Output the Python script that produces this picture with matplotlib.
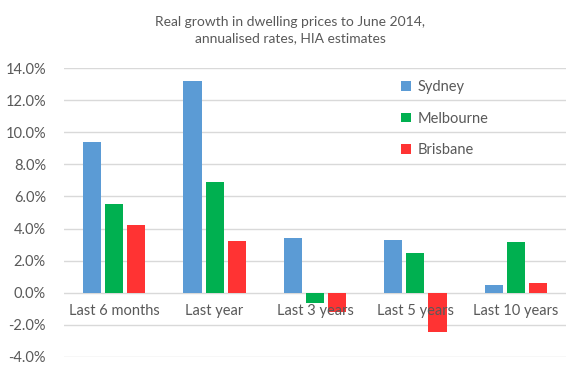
import numpy as np
import matplotlib
matplotlib.use("Agg")
import matplotlib.pyplot as plt
from matplotlib.ticker import FuncFormatter

plt.rcParams['font.family'] = ['Lato', 'DejaVu Sans']

# ── Data ──────────────────────────────────────────────────────
categories = ["Last 6 months", "Last year", "Last 3 years", "Last 5 years", "Last 10 years"]
sydney = [9.4, 13.2, 3.4, 3.3, 0.5]
melbourne = [5.5, 6.9, -0.65, 2.5, 3.15]
brisbane = [4.2, 3.2, -1.2, -2.45, 0.6]
series = [("Sydney", sydney, "#5b9bd5"),
          ("Melbourne", melbourne, "#00b050"),
          ("Brisbane", brisbane, "#ff3333")]

TEXT = "#595959"
GRID = "#d9d9d9"

fig = plt.figure(figsize=(5.8, 3.8), dpi=100)
ax = fig.add_axes([64 / 580, 1 - 357 / 380, 502 / 580, (357 - 68) / 380])

x = np.arange(len(categories))
width = 0.18
step = 0.22
for i, (name, vals, col) in enumerate(series):
    ax.bar(x + (i - 1) * step, vals, width, color=col, label=name, zorder=2)

ax.set_ylim(-4, 14)
ax.set_xlim(-0.5, len(categories) - 0.5)
ax.set_yticks(np.arange(-4, 15, 2))
ax.yaxis.set_major_formatter(FuncFormatter(lambda v, p: f"{v:.1f}%"))
ax.tick_params(axis='y', length=0, labelsize=10.5, labelcolor=TEXT, pad=13)
ax.set_xticks([])
ax.grid(axis='y', color=GRID, linewidth=1, zorder=0)
for s in ax.spines.values():
    s.set_visible(False)

# category labels sit just under the zero line
for xi, lab in zip(x, categories):
    ax.annotate(lab, xy=(xi, 0), xytext=(0, -8), textcoords='offset points',
                ha='center', va='top', fontsize=10.5, color=TEXT, zorder=3)

fig.text(0.5, 1 - 30 / 380, "Real growth in dwelling prices to June 2014,\nannualised rates, HIA estimates",
         ha='center', va='center', fontsize=10, color=TEXT, linespacing=1.45)

leg = ax.legend(loc='upper left', bbox_to_anchor=(388 / 580, 1 - 67 / 380),
                bbox_transform=fig.transFigure, frameon=False, fontsize=10.5,
                handlelength=0.65, handleheight=0.65, handletextpad=0.5,
                labelspacing=1.2, labelcolor=TEXT)

fig.savefig("out.png", dpi=100)
